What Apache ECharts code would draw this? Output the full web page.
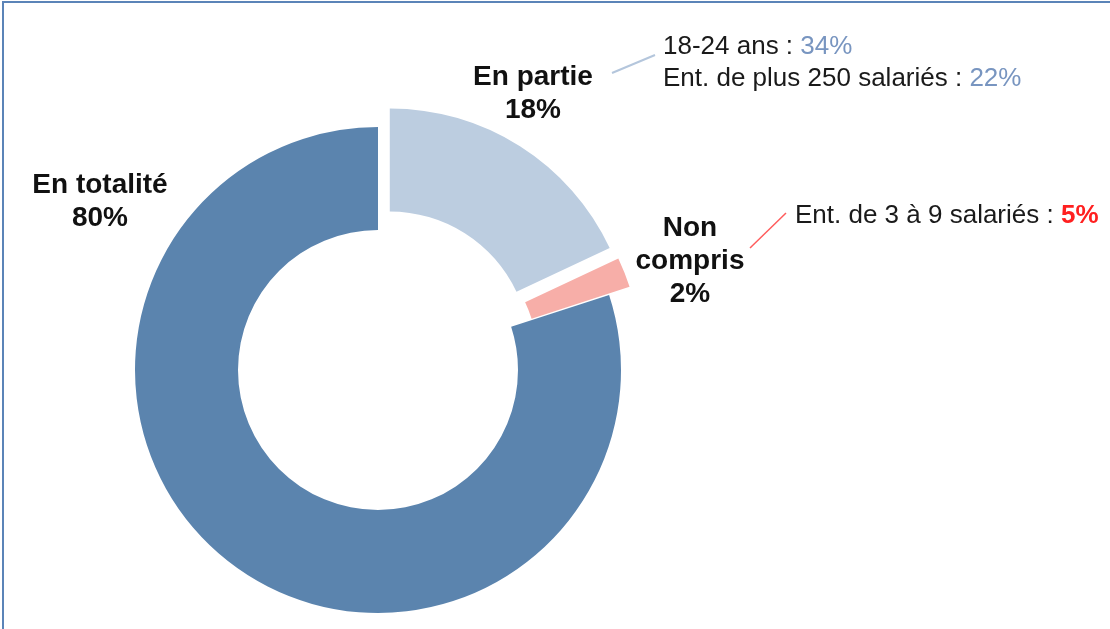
<!DOCTYPE html>
<html>
<head>
<meta charset="utf-8">
<script src="https://cdn.jsdelivr.net/npm/echarts@6/dist/echarts.min.js"></script>
<style>
  html, body { margin: 0; padding: 0; background: #fff; }
  #chart { width: 1110px; height: 629px; }
</style>
</head>
<body>
<div id="chart"></div>
<script>
// categories, clockwise from 12 o'clock
const categories = ['En partie', 'Non compris', 'En totalité']
const values = [18, 2, 80]
const exploded = [true, true, false]
const sliceColors = ['#bccde0', '#f7aea8', '#5b84ae']
// labels as shown (line breaks included)
const labelText = ['En partie', 'Non\ncompris', 'En totalité']
// sub-group notes next to slices
const noteLines0 = [['18-24 ans', '34%'], ['Ent. de plus 250 salariés', '22%']]
const noteLines1 = [['Ent. de 3 à 9 salariés', '5%']]

const labelPos = [
  { x: 533, y: 94 },
  { x: 690, y: 261 },
  { x: 100, y: 202 }
]

const chart = echarts.init(document.getElementById('chart'))

function noteText(lines) {
  return lines.map(l => l[0] + ' : {v|' + l[1] + '}').join('\n')
}

const noteFont = '26px "Liberation Sans", Arial, sans-serif'
const pieCenter = [378, 370]
const pieRadius = [140, 243]

chart.setOption({
  animation: false,
  graphic: [
    {
      type: 'rect',
      shape: { x: 3, y: 2, width: 1200, height: 700 },
      style: { fill: null, stroke: '#5b84b8', lineWidth: 2 },
      silent: true
    },
    {
      type: 'line',
      shape: { x1: 612, y1: 73, x2: 655, y2: 55 },
      style: { stroke: '#b4c6dc', lineWidth: 2 }
    },
    {
      type: 'line',
      shape: { x1: 750, y1: 248, x2: 786, y2: 213 },
      style: { stroke: '#ff5c5c', lineWidth: 1.5 }
    },
    {
      type: 'text',
      left: 663,
      top: 31,
      style: {
        text: noteText(noteLines0),
        font: noteFont,
        fill: '#1a1a1a',
        lineHeight: 32,
        rich: {
          v: { font: noteFont, fill: '#7895c0', lineHeight: 32 }
        }
      }
    },
    {
      type: 'text',
      left: 795,
      top: 200,
      style: {
        text: noteText(noteLines1),
        font: noteFont,
        fill: '#1a1a1a',
        lineHeight: 32,
        rich: {
          v: { font: 'bold ' + noteFont, fill: '#ff2020', lineHeight: 32 }
        }
      }
    }
  ],
  series: [
    {
      // visible slices, two of them pulled out
      type: 'pie',
      center: pieCenter,
      radius: pieRadius,
      startAngle: 90,
      clockwise: true,
      selectedMode: 'multiple',
      selectedOffset: 22,
      emphasis: { disabled: true },
      label: { show: false },
      labelLine: { show: false },
      data: categories.map((c, i) => ({
        name: c,
        value: values[i],
        selected: exploded[i],
        itemStyle: { color: sliceColors[i] }
      }))
    },
    {
      // same data, transparent, only carries the labels
      type: 'pie',
      center: pieCenter,
      radius: pieRadius,
      startAngle: 90,
      clockwise: true,
      silent: true,
      itemStyle: { color: 'rgba(0,0,0,0)' },
      label: {
        show: true,
        color: '#111',
        fontFamily: '"Liberation Sans", Arial, sans-serif',
        fontWeight: 'bold',
        fontSize: 28,
        lineHeight: 33,
        align: 'center',
        formatter: p => labelText[p.dataIndex] + '\n' + p.value + '%'
      },
      labelLine: { show: false },
      labelLayout: p => ({
        x: labelPos[p.dataIndex].x,
        y: labelPos[p.dataIndex].y,
        align: 'center',
        verticalAlign: 'middle'
      }),
      data: categories.map((c, i) => ({ name: c, value: values[i] }))
    }
  ]
})
</script>
</body>
</html>
